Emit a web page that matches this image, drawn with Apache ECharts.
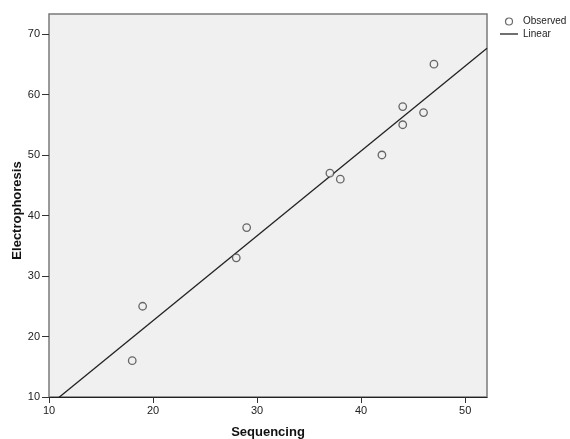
<!DOCTYPE html>
<html>
<head>
<meta charset="utf-8">
<script src="https://cdn.jsdelivr.net/npm/echarts@6/dist/echarts.min.js"></script>
<style>
html,body{margin:0;padding:0;background:#fff;}
#chart{width:570px;height:439px;}
</style>
</head>
<body>
<div id="chart"></div>
<script>
// Data
var sequencing = [18, 19, 28, 29, 37, 38, 42, 44, 44, 46, 47];
var electrophoresis = [16, 25, 33, 38, 47, 46, 50, 58, 55, 57, 65];
var xTicks = [10, 20, 30, 40, 50];
var yTicks = [10, 20, 30, 40, 50, 60, 70];
var xRange = [10, 52.1];
var yRange = [10, 73.3];
var seriesNames = ['Observed', 'Linear'];

// least-squares fit of the observed points
var n = sequencing.length, mx = 0, my = 0;
for (var i = 0; i < n; i++) { mx += sequencing[i]; my += electrophoresis[i]; }
mx /= n; my /= n;
var sxx = 0, sxy = 0;
for (var i = 0; i < n; i++) {
  sxx += (sequencing[i] - mx) * (sequencing[i] - mx);
  sxy += (sequencing[i] - mx) * (electrophoresis[i] - my);
}
var slope = sxy / sxx, intercept = my - slope * mx;
var fitLine = [[xRange[0], intercept + slope * xRange[0]], [xRange[1], intercept + slope * xRange[1]]];

var points = sequencing.map(function (x, i) { return [x, electrophoresis[i]]; });

var font = 'Liberation Sans, Arial, sans-serif';
var chart = echarts.init(document.getElementById('chart'), null, {renderer: 'canvas'});
chart.setOption({
  animation: false,
  backgroundColor: '#ffffff',
  textStyle: {fontFamily: font},
  grid: {left: 49, top: 14, right: 83, bottom: 42, show: true, backgroundColor: '#f0f0f0',
         borderColor: '#7a7a7a', borderWidth: 1.5, containLabel: false, outerBoundsMode: 'none'},
  legend: {
    orient: 'vertical', left: 500, top: 16.5, padding: 0, itemWidth: 18, itemHeight: 7, itemGap: 2.5,
    textStyle: {fontSize: 10, color: '#222', fontFamily: font},
    data: [{name: seriesNames[0], icon: 'circle', itemStyle: {color: '#ffffff', borderColor: '#444', borderWidth: 1.2}},
           {name: seriesNames[1], icon: 'path://M0,0 L18,0 L18,1.3 L0,1.3 Z', itemStyle: {color: '#222', borderWidth: 0}}]
  },
  xAxis: {
    type: 'value', min: xRange[0], max: xRange[1],
    name: 'Sequencing', nameLocation: 'middle', nameGap: 29, nameMoveOverlap: false,
    nameTextStyle: {fontSize: 13, fontWeight: 'bold', color: '#111', fontFamily: font},
    splitLine: {show: false},
    axisLine: {show: true, lineStyle: {color: '#222', width: 1}},
    axisTick: {show: true, length: 6, lineStyle: {color: '#333'}, customValues: xTicks},
    axisLabel: {fontSize: 11, color: '#222', margin: 8, customValues: xTicks}
  },
  yAxis: {
    type: 'value', min: yRange[0], max: yRange[1],
    name: 'Electrophoresis', nameLocation: 'middle', nameGap: 25, nameMoveOverlap: false,
    nameTextStyle: {fontSize: 13, fontWeight: 'bold', color: '#111', fontFamily: font, padding: [0, 10, 0, 0]},
    splitLine: {show: false},
    axisLine: {show: false},
    axisTick: {show: true, length: 7, lineStyle: {color: '#333'}, customValues: yTicks},
    axisLabel: {fontSize: 11, color: '#222', margin: 9, customValues: yTicks}
  },
  series: [
    {name: seriesNames[0], type: 'scatter', data: points, symbol: 'circle', symbolSize: 7.5,
     itemStyle: {color: '#f0f0f0', borderColor: '#444', borderWidth: 1.3}, z: 3},
    {name: seriesNames[1], type: 'line', data: fitLine, symbol: 'none', clip: true,
     lineStyle: {color: '#222', width: 1.3}, itemStyle: {color: '#222'}, z: 2}
  ]
});
</script>
</body>
</html>
